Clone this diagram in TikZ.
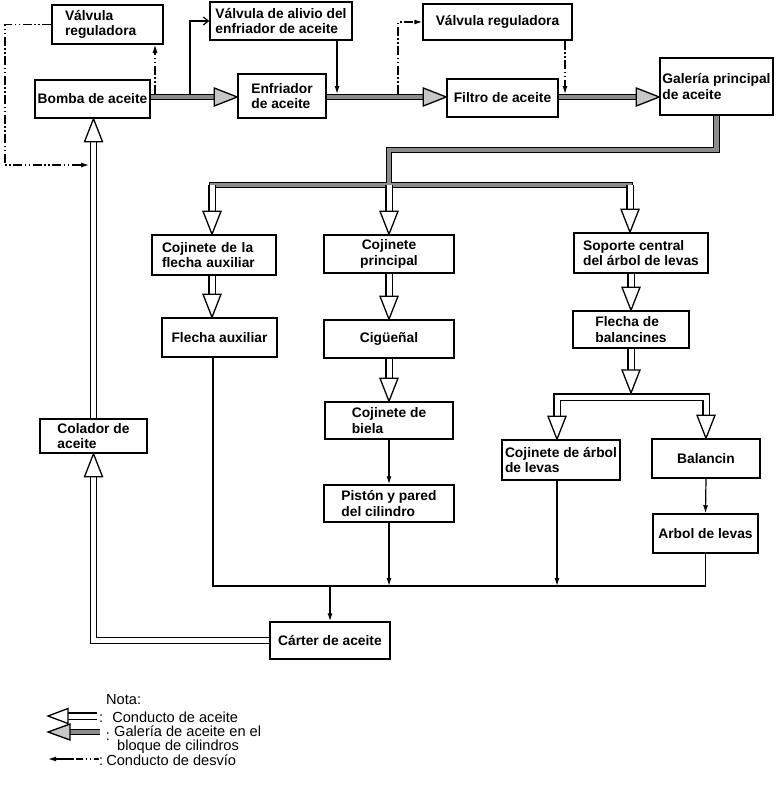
\documentclass[tikz,border=0pt]{standalone}
\usepackage{fontspec}
\setmainfont{Liberation Sans}
\usetikzlibrary{arrows.meta,calc}
\newcommand\hdD[2]{\draw[#2] (#1) -- ++(-9,-23) -- ++(18,0) -- cycle;}
\newcommand\hdU[2]{\draw[#2] (#1) -- ++(-9,23) -- ++(18,0) -- cycle;}
\newcommand\hdR[2]{\draw[#2] (#1) -- ++(-23,-9) -- ++(0,18) -- cycle;}
\begin{document}
\begin{tikzpicture}[x=1pt,y=-1pt,
  bx/.style={draw, line width=1.5pt, inner xsep=0pt, inner ysep=0pt, font=\bfseries\fontsize{13.8}{15.5}\selectfont},
  lg/.style={inner sep=0pt, font=\fontsize{14.6}{15}\selectfont},
  gal/.style={line width=1.2pt, double=black!45, double distance=4.5pt},
  con/.style={line width=1.3pt, double=white, double distance=5pt},
  hw/.style={draw, line width=1.3pt, fill=white, line join=miter},
  hg/.style={draw, line width=1.3pt, fill=black!22, line join=miter},
  byp/.style={line width=1.1pt, dash pattern=on 9pt off 2.5pt on 1.5pt off 2.5pt on 1.5pt off 2.5pt},
  ln/.style={line width=1.2pt},
  tipf/.style={-{Latex[length=8pt,width=5pt]}},
  tipo/.style={-{Straight Barb[length=5pt,width=8pt]}}]
\useasboundingbox (0,0) rectangle (777,788);
% ---------- boxes ----------
\node[bx, minimum width=111pt, minimum height=39pt, text width=85pt, align=left] (vreg1) at (107.5,24.5) {Válvula\\reguladora};
\node[bx, minimum width=115pt, minimum height=38pt] (bomba) at (92.5,99) {Bomba de aceite};
\node[bx, minimum width=142pt, minimum height=38pt, align=left] (valivio) at (281,21) {Válvula de alivio del\\enfriador de aceite};
\node[bx, minimum width=88pt, minimum height=44pt, align=left] (enfri) at (282,96) {Enfriador\\de aceite};
\node[bx, minimum width=149pt, minimum height=36pt] (vreg2) at (497.5,22) {Válvula reguladora};
\node[bx, minimum width=111pt, minimum height=38pt] (filtro) at (502.5,98) {Filtro de aceite};
\node[bx, minimum width=113pt, minimum height=57pt, align=left] (galeria) at (716.5,86.5) {Galería principal\\de aceite};
\node[bx, minimum width=124pt, minimum height=40pt, text width=104pt, align=left] (cflecha) at (214,255) {Cojinete de la\\flecha auxiliar};
\node[bx, minimum width=115pt, minimum height=39pt] (faux) at (219.5,337.5) {Flecha auxiliar};
\node[bx, minimum width=130pt, minimum height=38pt, align=center] (cprinc) at (389,254) {Cojinete\\principal};
\node[bx, minimum width=130pt, minimum height=38pt] (cig) at (389,339) {Cigüeñal};
\node[bx, minimum width=128pt, minimum height=37pt, align=left] (biela) at (389,420.5) {Cojinete de\\biela};
\node[bx, minimum width=130pt, minimum height=37pt, align=left] (piston) at (389,503.5) {Pistón y pared\\del cilindro};
\node[bx, minimum width=134pt, minimum height=40pt, align=left] (soporte) at (641,253) {Soporte central\\del árbol de levas};
\node[bx, minimum width=116pt, minimum height=37pt, align=left] (fbal) at (631,329.5) {Flecha de\\balancines};
\node[bx, minimum width=118pt, minimum height=40pt, align=left] (carbol) at (561,460) {Cojinete de árbol\\de levas};
\node[bx, minimum width=108pt, minimum height=39pt] (balancin) at (706,458.5) {Balancin};
\node[bx, minimum width=105pt, minimum height=39pt] (arbol) at (705.5,533.5) {Arbol de levas};
\node[bx, minimum width=107pt, minimum height=34pt, align=left] (colador) at (93.5,436) {Colador de\\aceite};
\node[bx, minimum width=120pt, minimum height=37pt] (carter) at (330,640.5) {Cárter de aceite};
% ---------- coordinates ----------
\coordinate (r) at (0,97);
\coordinate (j1) at (155,94);
\coordinate (j2) at (89,165);
\coordinate (l1) at (5,165);
\coordinate (j3) at (190,94);
\coordinate (j4) at (337,94);
\coordinate (j5) at (398,94);
\coordinate (j6) at (565,94);
\coordinate (g0) at (716.5,118.5);
\coordinate (g1) at (389,150);
\coordinate (dl) at (212,185);
\coordinate (dm) at (389,185);
\coordinate (dr) at (630,185);
\coordinate (bm) at (631,397);
\coordinate (bl) at (557,397);
\coordinate (br) at (706,397);
\coordinate (col) at (0,586);
\coordinate (fx) at (213,0);
% ---------- by-pass and relief lines ----------
\draw[byp, tipf] (j1) -- (j1 |- vreg1.south);
\draw[byp, tipf] (vreg1.west) -| (l1) -- (j2);
\draw[ln, tipo] (j3) |- (valivio.west);
\draw[ln, tipf] (valivio.south -| j4) -- (j4);
\draw[byp, tipf] (j5) |- (vreg2.west);
\draw[byp, tipf] (vreg2.south -| j6) -- (j6);
% ---------- main gallery ----------
\draw[gal] (bomba.east |- r) -- ($(enfri.west |- r)+(-22,0)$);
\hdR{enfri.west |- r}{hg}
\draw[gal] (enfri.east |- r) -- ($(filtro.west |- r)+(-22,0)$);
\hdR{filtro.west |- r}{hg}
\draw[gal] (filtro.east |- r) -- ($(galeria.west |- r)+(-22,0)$);
\hdR{galeria.west |- r}{hg}
\draw[gal, line cap=rect] (g0) |- (g1) -- (dm) (dl) -- (dr);
% ---------- oil ducts ----------
\draw[con] (dl) -- ($(dl |- cflecha.north)+(0,-22)$)
           (dm) -- ($(dm |- cprinc.north)+(0,-22)$)
           (dr) -- ($(dr |- soporte.north)+(0,-22)$);
\hdD{dl |- cflecha.north}{hw}
\hdD{dm |- cprinc.north}{hw}
\hdD{dr |- soporte.north}{hw}
\draw[con] (dl |- cflecha.south) -- ($(dl |- faux.north)+(0,-22)$);
\hdD{dl |- faux.north}{hw}
\draw[con] (cprinc.south) -- ($(cig.north)+(0,-22)$);
\hdD{cig.north}{hw}
\draw[con] (cig.south) -- ($(biela.north)+(0,-22)$);
\hdD{biela.north}{hw}
\draw[con] (soporte.south -| fbal.north) -- ($(fbal.north)+(0,-22)$);
\hdD{fbal.north}{hw}
\draw[con] (fbal.south) -- ($(bm)+(0,-26)$);
\hdD{$(bm)+(0,-4)$}{hw}
\draw[con] ($(bl |- carbol.north)+(0,-22)$) -- (bl) -- (br) -- ($(br |- balancin.north)+(0,-22)$);
\hdD{bl |- carbol.north}{hw}
\hdD{br |- balancin.north}{hw}
\draw[con] (colador.north) -- ($(colador.north |- bomba.south)+(0,22)$);
\hdU{colador.north |- bomba.south}{hw}
\draw[con] (carter.west) -| ($(colador.south)+(0,22)$);
\hdU{colador.south}{hw}
% ---------- return lines ----------
\draw[ln] (faux.south -| fx) |- (col -| arbol.south) -- (arbol.south);
\draw[ln, tipf] (biela.south) -- (piston.north);
\draw[ln, tipf] (piston.south) -- (piston.south |- col);
\draw[ln, tipf] (carbol.south -| bl) -- (bl |- col);
\draw[ln, tipf] (balancin.south) -- (arbol.north);
\draw[ln, tipf] (col -| carter.north) -- (carter.north);
% ---------- legend ----------
\node[lg, anchor=west] (nota) at (106,700) {Nota:};
\draw[con] (97,716) -- (67,716);
\draw[hw] (48,716) -- ++(20,-7.5) -- ++(0,15) -- cycle;
\node[lg, anchor=west] (lg1) at (99,717) {:\hspace{9pt}Conducto de aceite};
\draw[gal] (100,732) -- (68,732);
\draw[hg] (48,732) -- ++(22,-8) -- ++(0,16) -- cycle;
\node[lg] (lg2c) at (108,737) {:};
\node[lg, anchor=west] (lg2) at (114,731) {Galería de aceite en el};
\node[lg, anchor=west] (lg2b) at (117,746.5) {bloque de cilindros};
\draw[ln, dash pattern=on 5pt off 3pt on 1.5pt off 2.5pt on 1.5pt off 3pt on 7pt off 3pt] (99,759) -- (72,759);
\draw[ln, tipf] (74,759) -- (48,759);
\node[lg, anchor=west] (lg3) at (99,760.5) {:\hspace{3pt}Conducto de desvío};
\end{tikzpicture}
\end{document}
